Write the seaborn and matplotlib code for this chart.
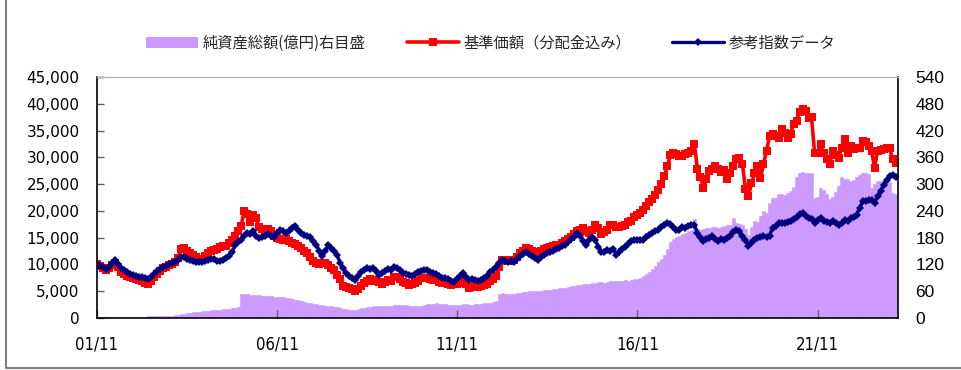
import numpy as np
import pandas as pd
import matplotlib
matplotlib.use("Agg")
import matplotlib.pyplot as plt
from matplotlib.lines import Line2D
from matplotlib.patches import Patch
from matplotlib.font_manager import FontProperties
import seaborn as sns

# Monthly series starting 2001/11
tick_months = [0, 60, 120, 180, 240]
tick_labels = ["01/11", "06/11", "11/11", "16/11", "21/11"]

# 基準価額（分配金込み） in yen
nav = [
    10000, 9700, 9300, 9000, 9400, 9900, 10300, 9500, 8600, 8200, 7900, 7600,
    7400, 7300, 7100, 6900, 6600, 6400, 6900, 7700, 8300, 8800, 9300, 9600,
    9900, 10100, 10400, 11200, 12900, 13100, 12600, 12100, 11800, 11300, 11000, 11000,
    11600, 12100, 12500, 12700, 12800, 13200, 13400, 13500, 14000, 14600, 15300, 16300,
    17200, 19900, 19400, 17900, 19300, 18600, 16900, 16600, 16500, 16700, 16300, 15300,
    15000, 14800, 14600, 14700, 14300, 14000, 13800, 13400, 13100, 12600, 12100, 11300,
    10600, 10200, 10000, 10300, 10300, 9900, 9400, 9000, 8000, 7300, 5900, 5700,
    5600, 5400, 5100, 5400, 6000, 6500, 7000, 7200, 6900, 7100, 6800, 6400,
    6800, 7100, 7000, 7600, 7700, 7300, 6800, 6500, 6200, 6400, 6600, 7000,
    7400, 7500, 7400, 7300, 7100, 7200, 6800, 6500, 6600, 6400, 6200, 6300,
    6300, 6500, 7100, 6400, 5600, 5700, 5900, 5800, 6000, 6200, 6400, 6900,
    7300, 7800, 9500, 10900, 10700, 10800, 10600, 10900, 11400, 12100, 12600, 13000,
    12800, 12600, 12400, 12100, 12500, 12800, 13000, 13200, 13400, 13700, 13600, 14000,
    14300, 14700, 15200, 15700, 16200, 16500, 16800, 16300, 15800, 16500, 17400, 16800,
    15600, 16000, 16400, 17300, 17400, 16900, 16900, 17100, 17400, 17900, 18100, 18900,
    19300, 19600, 20200, 20900, 21600, 22300, 23000, 23900, 25000, 26500, 28300, 30500,
    30800, 30600, 30200, 30300, 30700, 30900, 31200, 32400, 27800, 26300, 24300, 25900,
    27400, 27900, 28400, 27800, 27200, 27600, 25900, 27000, 28400, 29600, 29900, 28700,
    24000, 22800, 25200, 27000, 28400, 26200, 28700, 31200, 33900, 34300, 34000, 33700,
    35200, 34600, 33700, 34400, 36200, 36800, 38500, 39000, 38700, 37400, 37500, 30900,
    30900, 32400, 30900, 29700, 28700, 31200, 30400, 29900, 31800, 33400, 30900, 32100,
    31500, 31800, 31700, 33000, 32800, 32100, 31200, 28100, 31200, 31300, 31500, 31700,
    31800, 29600, 28900,
]

# 参考指数データ (rebased to 10,000)
bench = [
    10000, 9800, 9500, 9200, 9600, 10200, 10800, 10100, 9300, 8900, 8600, 8300,
    8100, 7900, 7700, 7600, 7400, 7300, 7700, 8300, 8700, 9100, 9600, 9800,
    10000, 10200, 10500, 10900, 11300, 11400, 11100, 10900, 10700, 10500, 10400, 10400,
    10600, 10800, 11000, 11100, 10700, 10600, 10900, 11200, 11500, 12300, 13600, 14100,
    14600, 15300, 15900, 15700, 16200, 15400, 14900, 15100, 15400, 15600, 15300, 15200,
    15900, 16500, 16300, 15900, 16300, 16800, 17100, 16400, 15800, 15500, 15400, 15200,
    14400, 13700, 12600, 11500, 12500, 13600, 13100, 12500, 11700, 10300, 9300, 8400,
    7800, 7400, 7100, 7800, 8500, 9000, 9300, 9200, 9300, 8700, 8100, 8400,
    8700, 9100, 9000, 9600, 9300, 8900, 8400, 8200, 8000, 7800, 8200, 8600,
    8800, 9000, 8900, 8600, 8400, 8200, 7900, 7500, 7400, 7200, 7000, 6800,
    7200, 7800, 8400, 7700, 7100, 7200, 7100, 7000, 7100, 7400, 7800, 8500,
    9000, 9600, 10300, 10900, 10700, 10500, 10600, 10500, 11000, 11600, 12000, 12400,
    12000, 11500, 11200, 10900, 11400, 11800, 12100, 12300, 12600, 12900, 13100, 13400,
    13700, 14200, 14700, 15200, 15900, 15300, 14400, 13700, 14600, 15200, 14500, 13300,
    12400, 12300, 12700, 12600, 12800, 11800, 12400, 12800, 13300, 13800, 14300, 14500,
    14500, 14600, 14600, 15100, 15500, 15800, 16200, 16500, 16900, 17300, 17700, 17500,
    17000, 16500, 16500, 16900, 16800, 17100, 17300, 17400, 15900, 15100, 14300, 14800,
    15000, 15300, 14800, 14300, 14700, 14600, 14900, 15300, 16000, 16500, 16200, 15300,
    14600, 13400, 14000, 14600, 14900, 15200, 15300, 15200, 15400, 16800, 17200, 17700,
    17700, 17800, 18000, 18100, 18400, 18800, 19400, 19600, 19000, 18600, 18400, 17800,
    18300, 18700, 18100, 17900, 17800, 18200, 17700, 17300, 17700, 18300, 18200, 18600,
    18800, 19300, 20500, 21800, 21900, 22100, 22000, 21500, 22700, 23700, 24900, 25700,
    26500, 26700, 26400,
]

# 純資産総額 (億円), right-hand scale
assets = [
    1.8, 2.0, 2.1, 2.2, 2.2, 2.4, 2.5, 2.4, 2.6, 2.7, 2.6, 2.8,
    2.9, 3.0, 3.1, 3.0, 3.3, 3.5, 3.6, 3.8, 4.0, 4.3, 4.5, 4.8,
    5.0, 5.4, 6.0, 6.8, 8.0, 9.5, 11.0, 11.8, 12.5, 13.2, 14.0, 15.0,
    15.8, 16.5, 17.0, 17.6, 18.3, 18.9, 19.5, 20.4, 21.2, 22.0, 23.2, 24.5,
    53.0, 54.5, 52.8, 52.0, 51.5, 51.8, 50.6, 50.0, 49.4, 48.8, 48.2, 47.6,
    47.0, 46.8, 46.2, 45.4, 44.2, 42.5, 41.0, 39.3, 37.5, 36.0, 34.4, 33.0,
    31.8, 30.5, 29.4, 28.6, 28.0, 27.2, 26.0, 24.8, 23.7, 22.0, 20.5, 19.4,
    18.6, 18.0, 18.5, 19.8, 21.5, 23.0, 24.6, 25.5, 25.8, 26.2, 26.7, 27.0,
    27.3, 26.8, 27.5, 28.3, 28.8, 29.4, 29.0, 28.6, 28.0, 27.4, 27.0, 27.2,
    27.8, 29.0, 30.4, 31.5, 32.3, 33.0, 32.4, 31.2, 30.5, 29.8, 29.2, 29.0,
    29.5, 30.2, 31.0, 30.4, 29.2, 29.6, 30.3, 31.0, 31.8, 32.5, 33.5, 34.5,
    36.0, 38.0, 53.5, 55.0, 54.2, 53.8, 54.6, 54.0, 55.2, 56.4, 57.5, 58.8,
    59.6, 60.8, 61.2, 60.5, 61.0, 61.8, 62.2, 63.0, 64.2, 65.4, 66.3, 67.5,
    68.0, 69.2, 70.8, 72.3, 73.5, 74.8, 76.0, 77.2, 76.5, 78.0, 79.0, 79.8,
    80.3, 79.5, 81.2, 82.0, 82.6, 83.0, 82.4, 83.5, 84.8, 84.0, 85.5, 87.0,
    88.5, 90.5, 94.0, 98.5, 104.0, 110.5, 117.0, 124.5, 132.0, 142.0, 155.0, 171.0,
    176.0, 180.5, 184.0, 188.0, 191.5, 195.0, 198.0, 221.0, 199.0, 197.0, 200.5, 202.0,
    201.0, 203.0, 204.5, 202.0, 205.0, 206.0, 207.5, 208.0, 224.0, 212.0, 210.0, 209.0,
    200.0, 187.0, 205.0, 218.0, 215.0, 228.0, 240.0, 236.0, 258.0, 270.0, 268.0, 277.0,
    278.0, 276.0, 279.0, 285.0, 294.0, 315.0, 325.0, 327.0, 326.0, 324.0, 326.0, 270.0,
    272.0, 292.0, 286.0, 278.0, 266.0, 272.0, 282.0, 296.0, 315.0, 312.0, 311.0, 308.0,
    310.0, 315.0, 320.0, 326.0, 324.0, 322.0, 292.0, 300.0, 308.0, 306.0, 309.0, 311.0,
    304.0, 281.0, 278.0,
]

labels = ["純資産総額(億円)右目盛", "基準価額（分配金込み）", "参考指数データ"]

RED = "#FF0000"
NAVY = "#000080"
LAVENDER = "#CC99FF"

df = pd.DataFrame({
    "month": np.arange(len(nav)),
    "nav": nav,
    "bench": bench,
    "assets": assets,
})

sns.set_theme(style="white")
plt.rcParams["font.family"] = ["DejaVu Sans"]

fig = plt.figure(figsize=(9.61, 3.70), dpi=100)
ax = fig.add_axes([97 / 961, 52 / 370, 801 / 961, 241 / 370])
axr = ax.twinx()

# net assets as columns on the right scale
sns.barplot(data=df, x="month", y="assets", ax=axr, native_scale=True,
            width=1.0, color=LAVENDER, saturation=1, errorbar=None,
            edgecolor=LAVENDER, linewidth=0.4)

ax.set_zorder(axr.get_zorder() + 1)
ax.patch.set_visible(False)

sns.lineplot(data=df, x="month", y="nav", ax=ax, estimator=None, color=RED,
             linewidth=2.6, marker="s", markersize=5.4, markeredgewidth=0)
sns.lineplot(data=df, x="month", y="bench", ax=ax, estimator=None, color=NAVY,
             linewidth=2.4, marker="D", markersize=4.4, markeredgewidth=0)

ax.set_xlim(0, 266.8)
ax.set_ylim(0, 45000)
axr.set_ylim(0, 540)
ax.set_xlabel("")
ax.set_ylabel("")
axr.set_xlabel("")
axr.set_ylabel("")

ax.set_yticks(range(0, 45001, 5000))
ax.set_yticklabels([f"{v:,}" for v in range(0, 45001, 5000)], fontsize=11)
axr.set_yticks(range(0, 541, 60))
axr.set_yticklabels([str(v) for v in range(0, 541, 60)],
                    fontsize=12.5, family=["Liberation Sans", "DejaVu Sans"])
ax.set_xticks(tick_months)
ax.set_xticklabels(tick_labels, fontsize=12, fontstretch="condensed",
                   family=["Liberation Sans Narrow", "DejaVu Sans"])

ax.tick_params(axis="y", direction="in", length=5, width=1, color="#606060",
               pad=12.5, left=True, labelcolor="black")
ax.tick_params(axis="x", direction="in", length=6, width=1, color="#606060",
               pad=12.5, bottom=True, labelcolor="black")
axr.tick_params(axis="y", length=0, pad=12.5, right=True, labelcolor="black")

for side in ["left", "bottom", "right"]:
    ax.spines[side].set_color("black")
    ax.spines[side].set_linewidth(1.2)
ax.spines["top"].set_color("#B4B4B4")
ax.spines["top"].set_linewidth(1.0)
for s in axr.spines.values():
    s.set_visible(False)
ax.grid(False)
axr.grid(False)

# legend across the top
handles = [
    Patch(facecolor=LAVENDER, edgecolor="none"),
    Line2D([], [], color=RED, linewidth=2.6, marker="s", markersize=5.4, markeredgewidth=0),
    Line2D([], [], color=NAVY, linewidth=2.4, marker="D", markersize=4.4, markeredgewidth=0),
]
fig.legend(handles, labels, loc="center", bbox_to_anchor=(491 / 961, 1 - 43 / 370),
           ncol=3, frameon=False, handlelength=3.4, handleheight=0.7,
           handletextpad=0.3, columnspacing=2.7, numpoints=1,
           prop=FontProperties(family=["Noto Sans CJK JP", "DejaVu Sans"], size=11))

# outer frame lines (left and bottom edges)
fig.add_artist(Line2D([6 / 961, 6 / 961], [2 / 370, 1.0], transform=fig.transFigure,
                      color="#808080", linewidth=1.5))
fig.add_artist(Line2D([6 / 961, 1.0], [2 / 370, 2 / 370], transform=fig.transFigure,
                      color="#808080", linewidth=1.5))

fig.savefig("out.png", dpi=100)
